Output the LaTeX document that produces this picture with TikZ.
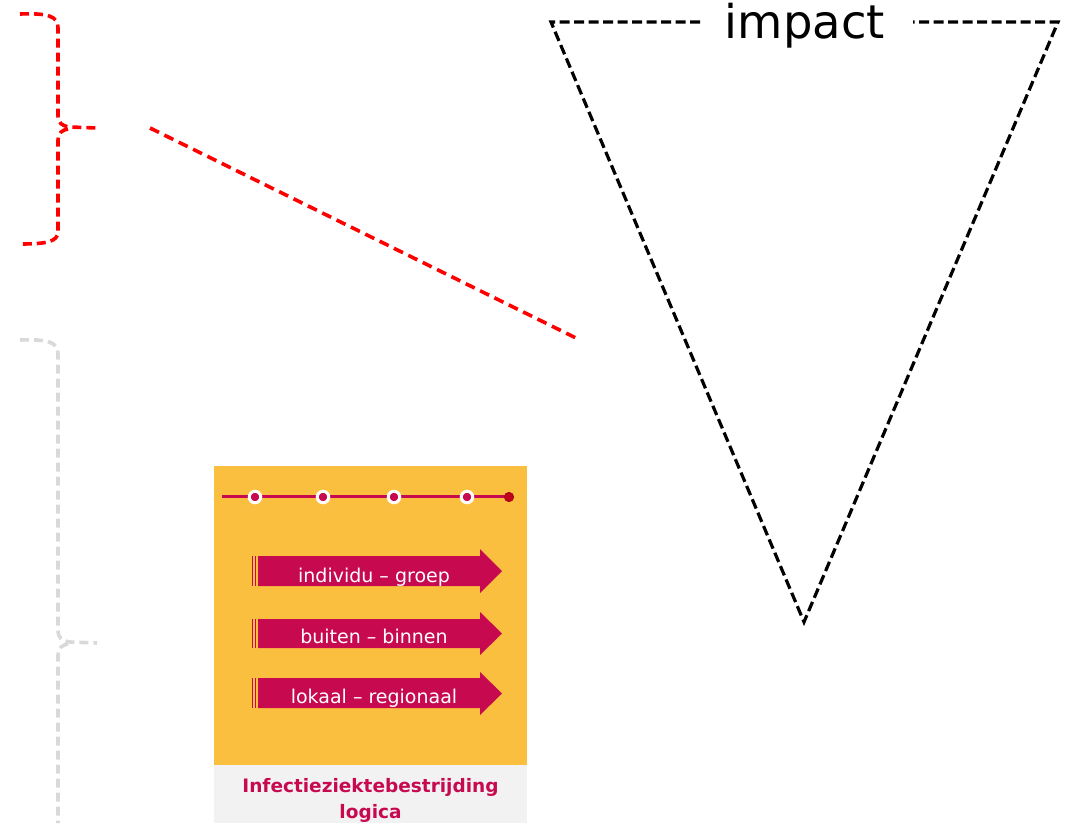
\documentclass[tikz,border=0pt]{standalone}
\usepackage{fontspec}
\setmainfont{DejaVu Sans}
\definecolor{orangebg}{RGB}{251,191,63}
\definecolor{magenta}{RGB}{199,10,80}
\definecolor{greybg}{RGB}{242,242,242}
\definecolor{bracegrey}{RGB}{217,217,217}
\definecolor{darkred}{RGB}{192,0,26}
\begin{document}
\begin{tikzpicture}[x=1pt,y=-1pt,
  redbrace/.style={draw=red,line width=3.6pt,dash pattern=on 9pt off 5pt},
  greybrace/.style={draw=bracegrey,line width=3.6pt,dash pattern=on 9pt off 5pt},
  tri/.style={draw=black,line width=3.2pt,dash pattern=on 10pt off 4.5pt},
  arrowbody/.style={fill=magenta},
  arrowtext/.style={text=white,font=\fontsize{19}{22}\selectfont,anchor=base,inner sep=0pt},
  stepdot/.style={circle,fill=magenta,draw=white,line width=3pt,minimum size=11.5pt,inner sep=0pt},
  lastdot/.style={circle,fill=darkred,draw=darkred!80!black,line width=0.6pt,minimum size=9.5pt,inner sep=0pt},
  titletext/.style={text=magenta,font=\bfseries\fontsize{18.5}{22}\selectfont,anchor=base,inner sep=0pt}
  ]
\useasboundingbox (0,0) rectangle (1068,823);

% red brace
\draw[redbrace] (20,14) .. controls (48,13) and (58,16) .. (58,28) -- (58,116)
   .. controls (58,123) and (62,126) .. (70,127) -- (97,128);
\draw[redbrace] (68,129) .. controls (62,130) and (58,133) .. (58,140) -- (58,232)
   .. controls (58,242) and (45,244) .. (20,244);
\coordinate (rstart) at (150,128);
\coordinate (rend) at (576,338);
\draw[redbrace,dash pattern=on 10pt off 6pt] (rstart) -- (rend);

% grey brace
\draw[greybrace] (20,340) .. controls (48,339) and (58,342) .. (58,354) -- (58,630)
   .. controls (58,638) and (62,641) .. (70,642) -- (97,643);
\draw[greybrace] (68,644) .. controls (62,645) and (58,648) .. (58,655) -- (58,823);

% triangle with impact
\node[font=\fontsize{46.5}{50}\selectfont,anchor=base,inner sep=0pt] (impact) at (805,38) {impact};
\coordinate (tl) at (551,22);
\coordinate (tr) at (1058,22);
\coordinate (tb) at (804,622);
\draw[tri,line join=miter] (700,22) -- (tl) -- (tb) -- (tr) -- (913,22);

% card
\fill[orangebg] (214,466) rectangle (527,765);
\fill[greybg] (214,765) rectangle (527,823);

% timeline
\coordinate (tlstart) at (222,496.5);
\coordinate (tlend) at (511,496.5);
\draw[magenta,line width=3pt] (tlstart) -- (tlend);
\node[stepdot] (s1) at (255,497) {};
\node[stepdot] (s2) at (323,497) {};
\node[stepdot] (s3) at (394,497) {};
\node[stepdot] (s4) at (467,497) {};
\node[lastdot] (s5) at (509,497) {};

% arrows
\foreach \yt/\yb/\ht/\hb/\nm in {556/586/549/593/a1, 619/648/612/655/a2, 678/708/672/715/a3}{
  \fill[arrowbody] (258,\yt) -- (480,\yt) -- (480,\ht) -- (502,{(\ht+\hb)/2}) -- (480,\hb) -- (480,\yb) -- (258,\yb) -- cycle;
  \fill[arrowbody] (252,\yt) rectangle (253.4,\yb);
  \fill[arrowbody] (254.8,\yt) rectangle (256.3,\yb);
}
\node[arrowtext] (t1) at (374,582) {individu – groep};
\node[arrowtext] (t2) at (374,643) {buiten – binnen};
\node[arrowtext] (t3) at (374,703) {lokaal – regionaal};

% title
\node[titletext] (title1) at (370.5,792) {Infectieziektebestrijding};
\node[titletext] (title2) at (370.5,818) {logica};
\end{tikzpicture}
\end{document}
